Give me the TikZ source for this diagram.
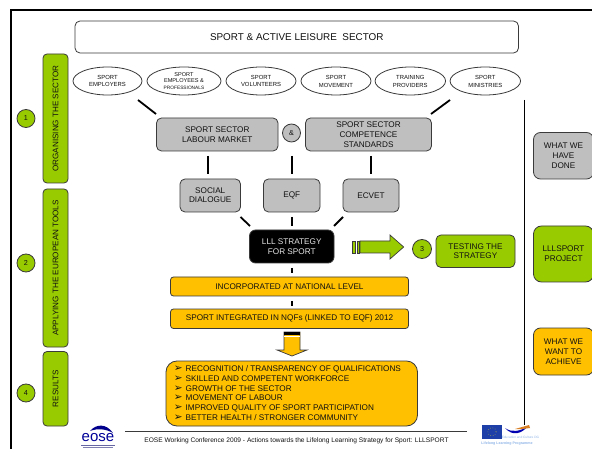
\documentclass[tikz,border=0pt]{standalone}
\usepackage{fontspec}
\setmainfont{Liberation Sans}
\newfontfamily\symf{DejaVu Sans}
\usetikzlibrary{calc,shapes.geometric}
\definecolor{gr}{HTML}{99CC00}
\definecolor{or}{HTML}{FFC000}
\definecolor{gy}{HTML}{BFBFBF}
\definecolor{ln}{HTML}{3A3A3A}
\definecolor{tx}{HTML}{111111}
\definecolor{eub}{HTML}{1F3FA8}
\definecolor{lb}{HTML}{8FB4E8}
\newcommand{\fz}[2]{\fontsize{#1}{#2}\selectfont}
\tikzset{
 x=1pt,y=-1pt,
 box/.style={draw=ln,line width=.8pt,rounded corners=#1,align=center,inner sep=0pt,text=tx,outer sep=0pt},
 box/.default=5pt,
 ell/.style={draw=ln,line width=.8pt,ellipse,align=center,inner sep=0pt,text=tx,minimum height=28pt,outer sep=0pt,font=\fz{5.9}{7}},
 circ/.style={draw=ln,line width=.8pt,circle,inner sep=0pt,minimum size=18pt,text=tx,font=\fz{7.2}{8}},
 conn/.style={black,line width=1.8pt},
 vert/.style={rotate=90,text=tx,font=\fz{8.1}{9}},
}
\newcommand{\bx}[7]{\node[box=#6,#7,minimum width=#4pt-#2pt,minimum height=#5pt-#3pt] (#1) at ({(#2+#4)/2},{(#3+#5)/2})}
\begin{document}
\begin{tikzpicture}
\useasboundingbox (0,0) rectangle (592,449);
\fill[white] (0,0) rectangle (592,449);
% frame
\draw[black,line width=2.4pt] (11,449) -- (11,10) -- (592,10);
% top
\bx{top}{75}{21}{518.5}{53}{5pt}{font=\fz{9.9}{11}} {SPORT \& ACTIVE LEISURE\ \ SECTOR};
% side bars
\bx{bara}{43}{54}{68}{183}{4pt}{fill=gr} {};
\node[vert] (ta) at (bara) {ORGANISING THE SECTOR};
\bx{barb}{43}{189}{68}{347}{4pt}{fill=gr} {};
\node[vert] (tb) at (barb) {APPLYING THE EUROPEAN TOOLS};
\bx{barc}{43}{351.5}{68}{426}{4pt}{fill=gr} {};
\node[vert] (tc) at (barc) {RESULTS};
\node[circ,fill=gr] (c1) at (26,118.5) {1};
\node[circ,fill=gr] (c2) at (26,263) {2};
\node[circ,fill=gr] (c4) at (26,393) {4};
% ellipses
\node[ell,minimum width=69pt] (e1) at (107.5,81) {SPORT\\EMPLOYERS};
\node[ell,minimum width=74pt,font=\fz{5.6}{6.6}] (e2) at (184,81) {SPORT\\EMPLOYEES \&\\{\fz{4.8}{6.6}PROFESSIONALS}};
\node[ell,minimum width=70pt] (e3) at (261,81) {SPORT\\VOLUNTEERS};
\node[ell,minimum width=70pt,font=\fz{5.9}{8}] (e4) at (336,81) {SPORT\\MOVEMENT};
\node[ell,minimum width=70.5pt,font=\fz{5.9}{8}] (e5) at (410.3,81) {TRAINING\\PROVIDERS};
\node[ell,minimum width=70.5pt,font=\fz{5.9}{8}] (e6) at (485.3,81) {SPORT\\MINISTRIES};
% grey boxes
\bx{lab}{156.5}{118}{278}{151}{5pt}{fill=gy,font=\fz{8.2}{10}} {SPORT SECTOR\\LABOUR MARKET};
\node[circ,fill=gy] (and) at (291.5,133) {\&};
\bx{comp}{305.5}{118}{431.5}{151}{5pt}{fill=gy,font=\fz{8.2}{10}} {SPORT SECTOR\\COMPETENCE\\STANDARDS};
\bx{soc}{180}{179}{240.5}{212}{5pt}{fill=gy,font=\fz{8.2}{9}} {SOCIAL\\DIALOGUE};
\bx{eqf}{263.5}{179}{320}{212}{5pt}{fill=gy,font=\fz{8.2}{9}} {EQF};
\bx{ecv}{343}{179}{399}{212}{5pt}{fill=gy,font=\fz{8.2}{9}} {ECVET};
\bx{lll}{249.5}{230}{334}{263}{6pt}{fill=black,text=white!90!black,font=\fz{8.2}{10}} {LLL STRATEGY\\FOR SPORT};
\bx{inc}{170.5}{277}{408.5}{296}{3pt}{fill=or,font=\fz{8.2}{9}} {INCORPORATED AT NATIONAL LEVEL};
\bx{nqf}{170.5}{309}{408.5}{328.5}{3pt}{fill=or,font=\fz{8.2}{9}} {SPORT INTEGRATED IN NQFs (LINKED TO EQF) 2012};
\bx{res}{166}{361}{417.5}{426}{11pt}{fill=or} {};
\foreach \n/\y/\t in {a/369/{RECOGNITION / TRANSPARENCY OF QUALIFICATIONS},b/379/{SKILLED AND COMPETENT WORKFORCE},c/389/{GROWTH OF THE SECTOR},d/398/{MOVEMENT OF LABOUR},e/408/{IMPROVED QUALITY OF SPORT PARTICIPATION},f/418/{BETTER HEALTH / STRONGER COMMUNITY}}{
 \node[anchor=west,inner sep=0pt,text=tx,font=\fz{8.2}{9}] (r\n) at (185.5,\y) {\t};
 \node[inner sep=0pt,text=tx,font=\symf\fz{10.5}{11}] (b\n) at (178.3,\y) {➢};
}
% connectors
\coordinate (p1) at (138,100); \coordinate (p2) at (156,114);
\coordinate (p3) at (450,100); \coordinate (p4) at (431,114);
\draw[conn] (p1) -- (p2);
\draw[conn] (p3) -- (p4);
\draw[conn,shorten <=5pt,shorten >=5pt] ([xshift=-2pt]lab.south -| soc.north) -- ([xshift=-2pt]soc.north);
\draw[conn,shorten <=5pt,shorten >=5pt] (lab.south -| eqf.north) -- (eqf.north);
\draw[conn,shorten <=5pt,shorten >=5pt] (comp.south -| ecv.north) -- (ecv.north);
\coordinate (p5) at (240.5,217); \coordinate (p6) at (250,226);
\coordinate (p7) at (343,217); \coordinate (p8) at (334,226);
\draw[conn] (p5) -- (p6);
\draw[conn] (p7) -- (p8);
\draw[conn,shorten <=5pt,shorten >=4pt] (eqf.south) -- (eqf.south |- lll.north);
\draw[conn,shorten <=5pt,shorten >=4pt] (lll.south) -- (lll.south |- inc.north);
\draw[conn,shorten <=5pt,shorten >=3pt] (lll.south |- inc.south) -- (lll.south |- nqf.north);
% block arrow down
\draw[draw=ln,line width=.7pt,fill=or] (284,332) -- (300,332) -- (300,350) -- (307,350) -- (292,356) -- (277,350) -- (284,350) -- cycle;
\fill[black] (284,332) rectangle (300,335);
\draw[white,line width=.6pt] (284.4,336) -- (299.6,336);
% block arrow right
\draw[draw=ln,line width=.7pt,fill=gr] (352,241) rectangle (355.5,253);
\draw[draw=ln,line width=.7pt,fill=gr] (357,241) rectangle (359,253);
\draw[draw=ln,line width=.7pt,fill=gr] (360,241) -- (390,241) -- (390,235) -- (403.7,247) -- (390,259) -- (390,253) -- (360,253) -- cycle;
\node[circ,fill=gr,minimum size=19pt] (c3) at (422,249) {3};
\bx{test}{436}{235}{515}{267.5}{5pt}{fill=gr,font=\fz{8.2}{9}} {TESTING THE\\STRATEGY};
% divider
\coordinate (d1) at (524.5,100); \coordinate (d2) at (524.5,425);
\draw[black,line width=.8pt] (d1) -- (d2);
% right boxes
\bx{ra}{533.5}{132.5}{593.5}{179}{7pt}{fill=gy,font=\fz{8.2}{10}} {WHAT WE\\HAVE\\DONE};
\bx{rb}{533.5}{226}{593.5}{282}{8pt}{fill=gr,font=\fz{8.2}{10}} {LLLSPORT\\PROJECT};
\bx{rc}{533.5}{328}{593.5}{375}{7pt}{fill=or,font=\fz{8.2}{10}} {WHAT WE\\WANT TO\\ACHIEVE};
% footer
\coordinate (f1) at (125,431.5); \coordinate (f2) at (467,431.5);
\draw[ln,line width=.6pt] (f1) -- (f2);
\node[text=tx,font=\fz{6.6}{8},inner sep=0pt] (ft) at (296.5,441) {EOSE Working Conference 2009 - Actions towards the Lifelong Learning Strategy for Sport: LLLSPORT};
% EOSE logo
\fill[blue!55!black] (90,431) .. controls (96,424) and (106,423) .. (113,433) .. controls (106,429) and (98,428) .. (90,431) -- cycle;
\node[text=blue!60!black,font=\fz{15}{16},inner sep=0pt] (eo) at (98,437.5) {eose};
\fill[blue!40!black,opacity=.6] (81,444.5) rectangle (115,445.5);
\fill[blue!40!black,opacity=.5] (83,446.5) rectangle (113,447.5);
% EU logo
\fill[eub] (482,424.7) rectangle (502,439);
\draw[yellow!80!black,line width=.5pt,dotted] (492,431.8) circle (4.2);
\fill[blue!70!black] (505,428) .. controls (512,433) and (520,431) .. (527,427) .. controls (522,433) and (513,437) .. (505,428) -- cycle;
\fill[orange!70!gray] (515,429) -- (529,425) -- (530,428) -- (522,429) -- cycle;
\node[text=lb,font=\fz{3.2}{4},inner sep=0pt] (edu) at (520.5,437) {Education and Culture DG};
\node[text=lb,font=\bfseries\fz{3.6}{4},inner sep=0pt] (lifel) at (507,443.5) {Lifelong Learning Programme};
\end{tikzpicture}
\end{document}
